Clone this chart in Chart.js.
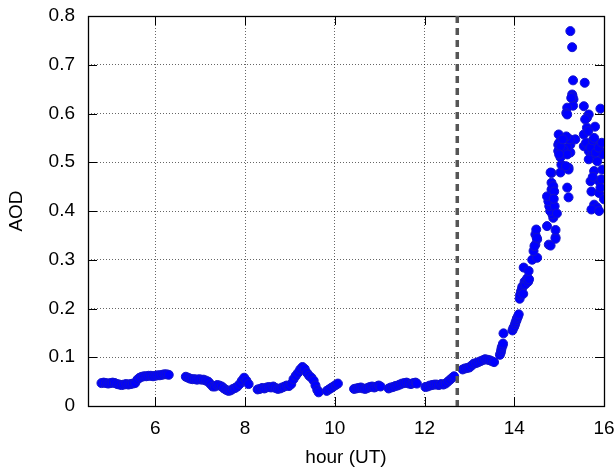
<!DOCTYPE html>
<html>
<head>
<meta charset="utf-8">
<script src="https://cdn.jsdelivr.net/npm/chart.js@4/dist/chart.umd.min.js"></script>
<style>
  html, body { margin: 0; padding: 0; background: #fff; }
  canvas { display: block; }
</style>
</head>
<body>
<canvas id="chart" width="616" height="469"></canvas>
<script>
// Aerosol optical depth samples through the day (hour UT, AOD)
const hours = [
  4.80, 4.85, 4.90, 4.95, 5.00, 5.05, 5.10, 5.15, 5.20, 5.25, 5.30, 5.35, 5.40, 5.45, 5.50, 5.55,
  5.60, 5.65, 5.70, 5.75, 5.80, 5.85, 5.90, 5.95, 6.00, 6.05, 6.10, 6.15, 6.20, 6.25, 6.30,
  6.68, 6.73, 6.78, 6.83, 6.88, 6.93, 6.98, 7.03, 7.08, 7.13, 7.18, 7.23, 7.28, 7.33, 7.38,
  7.43, 7.48, 7.53, 7.58, 7.63, 7.68, 7.73, 7.78, 7.83, 7.88, 7.93, 7.98, 8.03, 8.08,
  8.28, 8.33, 8.38, 8.43, 8.48, 8.53, 8.58, 8.63, 8.68, 8.73, 8.78, 8.83, 8.88, 8.93, 8.98,
  9.03, 9.08, 9.13, 9.18, 9.23, 9.28, 9.33, 9.38, 9.43, 9.48, 9.53, 9.57, 9.61, 9.64,
  9.82, 9.87, 9.92, 9.97, 10.02, 10.07,
  10.43, 10.48, 10.53, 10.58, 10.63, 10.68, 10.73, 10.78, 10.83, 10.88, 10.93, 10.98, 11.02,
  11.20, 11.25, 11.30, 11.35, 11.40, 11.45, 11.50, 11.55, 11.60, 11.65, 11.70, 11.75, 11.80, 11.83,
  12.02, 12.07, 12.12, 12.17, 12.22, 12.27, 12.32, 12.37, 12.42, 12.47, 12.52, 12.57, 12.62, 12.66,
  12.85, 12.90, 12.95, 13.00, 13.05, 13.10, 13.15, 13.20, 13.25, 13.30, 13.35, 13.40, 13.45, 13.50, 13.55,
  13.68, 13.70, 13.71, 13.72, 13.74, 13.75, 13.76,
  13.96, 13.98, 14.00, 14.02, 14.03, 14.05, 14.06, 14.08, 14.10,
  14.12, 14.13, 14.15, 14.17, 14.18, 14.20, 14.22, 14.23, 14.25, 14.27, 14.29, 14.31, 14.33,
  14.21, 14.32, 14.40, 14.51, 14.43, 14.47, 14.51, 14.47, 14.49, 14.77, 14.45, 14.50,
  14.73, 14.81, 14.92, 14.92, 14.92, 14.87, 14.85, 14.80, 14.78, 14.76, 14.73, 14.83, 14.83, 14.87,
  14.89, 14.83, 14.81, 14.90, 14.95, 14.88,
  15.03, 15.05, 15.03, 14.98, 14.98, 14.99, 15.14, 15.25, 15.25, 15.18, 15.36, 15.21, 15.21, 15.00,
  15.10, 15.03, 15.18, 15.00, 15.18, 15.21, 15.24, 15.16, 15.08, 15.15,
  15.25, 15.29, 15.31, 15.29, 15.32, 15.31, 15.18, 15.16, 15.18, 15.30, 15.27,
  15.57, 15.55, 15.66, 15.62, 15.92, 15.62, 15.80, 15.55, 15.65, 15.58, 15.55, 15.66, 15.74, 15.85,
  15.92, 15.96, 15.66, 15.85, 15.78, 15.96, 15.70, 15.89, 15.72, 15.89, 16.00, 15.78, 15.85, 15.72,
  15.89, 15.92, 15.60, 15.70, 15.75, 15.82, 15.88, 15.78, 15.95, 15.94, 15.75
];
const aod = [
  0.047, 0.048, 0.047, 0.046, 0.047, 0.048, 0.047, 0.045, 0.044, 0.043, 0.044, 0.045, 0.044, 0.045, 0.046, 0.047,
  0.054, 0.058, 0.060, 0.061, 0.061, 0.062, 0.062, 0.061, 0.062, 0.063, 0.063, 0.064, 0.065, 0.065, 0.064,
  0.060, 0.058, 0.056, 0.055, 0.055, 0.054, 0.055, 0.054, 0.054, 0.052, 0.050, 0.045, 0.040, 0.040, 0.043,
  0.042, 0.040, 0.036, 0.033, 0.031, 0.032, 0.035, 0.037, 0.040, 0.045, 0.052, 0.058, 0.052, 0.045,
  0.034, 0.035, 0.037, 0.036, 0.038, 0.039, 0.038, 0.040, 0.037, 0.035, 0.036, 0.038, 0.040, 0.042, 0.041,
  0.045, 0.055, 0.062, 0.068, 0.075, 0.080, 0.076, 0.068, 0.062, 0.058, 0.052, 0.042, 0.033, 0.028,
  0.031, 0.034, 0.037, 0.040, 0.043, 0.046,
  0.035, 0.036, 0.037, 0.038, 0.036, 0.035, 0.037, 0.039, 0.040, 0.038, 0.040, 0.042, 0.040,
  0.036, 0.038, 0.039, 0.041, 0.042, 0.044, 0.046, 0.047, 0.048, 0.046, 0.045, 0.047, 0.048, 0.046,
  0.039, 0.040, 0.042, 0.043, 0.044, 0.044, 0.043, 0.045, 0.044, 0.046, 0.050, 0.054, 0.058, 0.061,
  0.075, 0.077, 0.078, 0.079, 0.083, 0.087, 0.088, 0.090, 0.092, 0.094, 0.096, 0.095, 0.094, 0.092, 0.090,
  0.105, 0.110, 0.115, 0.120, 0.124, 0.128, 0.149,
  0.155, 0.160, 0.163, 0.168, 0.172, 0.176, 0.180, 0.183, 0.188,
  0.220, 0.228, 0.235, 0.240, 0.245, 0.230, 0.248, 0.255, 0.250, 0.258, 0.262, 0.255, 0.260,
  0.284, 0.277, 0.300, 0.304, 0.318, 0.331, 0.342, 0.352, 0.362, 0.331, 0.328, 0.345,
  0.369, 0.329, 0.346, 0.361, 0.343, 0.386, 0.393, 0.400, 0.410, 0.420, 0.430, 0.444, 0.458, 0.451,
  0.440, 0.478, 0.479, 0.410, 0.395, 0.425,
  0.479, 0.495, 0.510, 0.523, 0.536, 0.557, 0.550, 0.536, 0.520, 0.530, 0.547, 0.489, 0.485, 0.540,
  0.526, 0.533, 0.516, 0.516, 0.448, 0.428, 0.547, 0.553, 0.547, 0.492,
  0.769, 0.736, 0.668, 0.639, 0.629, 0.616, 0.612, 0.601, 0.598, 0.635, 0.632,
  0.663, 0.615, 0.598, 0.591, 0.610, 0.571, 0.573, 0.557, 0.564, 0.588, 0.533, 0.523, 0.516, 0.536,
  0.523, 0.516, 0.506, 0.502, 0.482, 0.485, 0.461, 0.461, 0.440, 0.437, 0.424, 0.413, 0.407, 0.403,
  0.400, 0.448, 0.540, 0.530, 0.545, 0.520, 0.530, 0.550, 0.540, 0.465, 0.470
];

const xTicks = [6, 8, 10, 12, 14, 16];
const yTicks = [0, 0.1, 0.2, 0.3, 0.4, 0.5, 0.6, 0.7, 0.8];
const eventHour = 12.73;

const points = hours.map((h, i) => ({ x: h, y: aod[i] }));

Chart.defaults.font.family = "'Liberation Sans', Arial, Helvetica, sans-serif";
Chart.defaults.font.size = 19;
Chart.defaults.color = '#000';

// white page background
const background = {
  id: 'background',
  beforeDraw(chart) {
    const ctx = chart.ctx;
    ctx.save();
    ctx.fillStyle = '#fff';
    ctx.fillRect(0, 0, chart.width, chart.height);
    ctx.restore();
  }
};

// plot border with inward tick marks on all four sides
const frame = {
  id: 'frame',
  beforeDatasetsDraw(chart) {
    const { ctx, chartArea: a, scales: { x, y } } = chart;
    const len = 9;
    ctx.save();
    ctx.strokeStyle = '#000';
    ctx.lineWidth = 1;
    ctx.beginPath();
    xTicks.forEach(v => {
      const px = Math.round(x.getPixelForValue(v)) + 0.5;
      ctx.moveTo(px, a.bottom); ctx.lineTo(px, a.bottom - len);
      ctx.moveTo(px, a.top); ctx.lineTo(px, a.top + len);
    });
    yTicks.forEach(v => {
      const py = Math.round(y.getPixelForValue(v)) + 0.5;
      ctx.moveTo(a.left, py); ctx.lineTo(a.left + len, py);
      ctx.moveTo(a.right, py); ctx.lineTo(a.right - len, py);
    });
    ctx.stroke();
    ctx.lineWidth = 1.3;
    ctx.strokeRect(a.left + 0.5, a.top + 0.5, a.right - a.left, a.bottom - a.top);
    ctx.restore();
  }
};

// fixed axis box sizes, no extra room for label overhang
const fixBox = size => s => {
  if (s.isHorizontal()) s.height = size; else s.width = size;
  s.paddingLeft = 0; s.paddingRight = 0; s.paddingTop = 0; s.paddingBottom = 0;
};

new Chart(document.getElementById('chart'), {
  type: 'scatter',
  data: {
    datasets: [
      {
        data: points,
        pointRadius: 4.5,
        pointHoverRadius: 4.5,
        pointBorderWidth: 1,
        pointBackgroundColor: 'rgb(0,0,255)',
        pointBorderColor: 'rgb(20,20,205)',
        order: 2
      },
      {
        data: [{ x: eventHour, y: 0.8 }, { x: eventHour, y: 0 }],
        showLine: true,
        pointRadius: 0,
        borderColor: '#555555',
        borderWidth: 3.5,
        borderDash: [7, 5],
        order: 1
      }
    ]
  },
  options: {
    responsive: false,
    animation: false,
    devicePixelRatio: 1,
    layout: { padding: { top: 16, right: 12, left: 0, bottom: 0 } },
    plugins: { legend: { display: false }, tooltip: { enabled: false } },
    scales: {
      x: {
        type: 'linear',
        min: 4.5,
        max: 16,
        afterBuildTicks: s => { s.ticks = xTicks.map(v => ({ value: v })); },
        afterFit: fixBox(63),
        ticks: { padding: 11, maxRotation: 0, callback: v => String(v) },
        grid: { color: 'rgba(0,0,0,0.6)', lineWidth: 1, drawTicks: false },
        border: { display: false, dash: [1, 2] },
        title: { display: true, text: 'hour (UT)', padding: { top: 0, bottom: 0 } }
      },
      y: {
        type: 'linear',
        min: 0,
        max: 0.8,
        afterBuildTicks: s => { s.ticks = yTicks.map(v => ({ value: v })); },
        afterFit: fixBox(88),
        ticks: { padding: 13, callback: v => String(Number(v.toFixed(1))) },
        grid: { color: 'rgba(0,0,0,0.6)', lineWidth: 1, drawTicks: false },
        border: { display: false, dash: [1, 2] },
        title: { display: true, text: 'AOD', padding: { top: 5, bottom: 0 } }
      }
    }
  },
  plugins: [background, frame]
});
</script>
</body>
</html>
